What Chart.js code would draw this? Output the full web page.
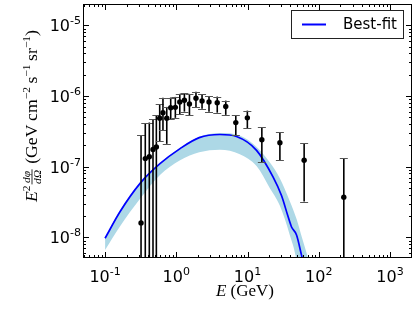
<!DOCTYPE html>
<html lang="en">
<head>
  <meta charset="UTF-8">
  <title>Best-fit spectrum</title>
  <style>
    body { margin: 0; background: white; }
    #wrap { width: 416px; height: 312px; }
  </style>
  <script src="https://cdn.jsdelivr.net/npm/chart.js"></script>
</head>
<body>
  <div id="wrap"><canvas id="myChart" width="416" height="312"></canvas></div>

  <script>
    // measured points (E in GeV, E^2 dphi/dOmega)
    const energy   = [0.32, 0.367, 0.418, 0.471, 0.525, 0.585, 0.65, 0.735, 0.835, 0.97, 1.12, 1.3, 1.53, 1.89, 2.3, 2.88, 3.76, 4.95, 6.85, 9.95, 15.9, 28.5, 62.4, 225];
    const flux     = [1.6e-8, 1.3e-7, 1.38e-7, 1.75e-7, 1.9e-7, 4.85e-7, 5.8e-7, 4.85e-7, 6.8e-7, 6.9e-7, 8.2e-7, 8.7e-7, 7.7e-7, 9.3e-7, 8.5e-7, 8.2e-7, 8.0e-7, 7.1e-7, 4.2e-7, 4.9e-7, 2.4e-7, 2.18e-7, 1.23e-7, 3.7e-8];
    const fluxHigh = [2.8e-7, 4.1e-7, 4.2e-7, 4.7e-7, 5.3e-7, 7.7e-7, 9.4e-7, 7.0e-7, 9.5e-7, 9.7e-7, 1.07e-6, 1.1e-6, 1.07e-6, 1.15e-6, 1.05e-6, 1.0e-6, 9.8e-7, 8.6e-7, 5.4e-7, 6.2e-7, 3.6e-7, 3.1e-7, 2.15e-7, 1.32e-7];
    const fluxLow  = [1e-10, 1e-10, 1e-10, 1e-10, 1e-10, 2.3e-7, 3.3e-7, 2.1e-7, 4.7e-7, 4.9e-7, 5.5e-7, 6.0e-7, 5.3e-7, 7.0e-7, 6.6e-7, 6.0e-7, 5.8e-7, 5.4e-7, 2.8e-7, 3.5e-7, 1.15e-7, 1.23e-7, 3.2e-8, 1e-10];

    // best-fit curve
    const fitE = [0.1, 0.162, 0.31, 0.59, 1.13, 2.1, 4.1, 7.0, 13.4, 22.9, 30, 37.2, 41.5, 48.8, 57.3, 62];
    const fitY = [9.7e-9, 2.3e-8, 5.8e-8, 1.1e-7, 1.8e-7, 2.57e-7, 2.85e-7, 2.67e-7, 1.7e-7, 7.1e-8, 3.9e-8, 1.95e-8, 1.4e-8, 1.08e-8, 5.6e-9, 4e-9];

    // uncertainty band
    const bandE    = [0.1, 0.16, 0.31, 0.59, 1.13, 2.1, 4.1, 7.8, 13.4, 20.5, 28.5, 39, 49, 58, 70];
    const bandHigh = [9.8e-9, 2.35e-8, 5.9e-8, 1.12e-7, 1.85e-7, 2.65e-7, 3.0e-7, 2.75e-7, 1.9e-7, 1.15e-7, 6.8e-8, 3.3e-8, 1.8e-8, 1.0e-8, 5.3e-9];
    const bandLow  = [6.6e-9, 1.4e-8, 3.5e-8, 7.6e-8, 1.23e-7, 1.6e-7, 1.74e-7, 1.5e-7, 1.02e-7, 5.0e-8, 2.8e-8, 1.1e-8, 4.5e-9, 1e-9, 1e-10];

    const xTicks = [0.1, 1, 10, 100, 1000];
    const xExps  = ['-1', '0', '1', '2', '3'];
    const yTicks = [1e-8, 1e-7, 1e-6, 1e-5];
    const yExps  = ['-8', '-7', '-6', '-5'];

    const xy = (xs, ys) => xs.map((x, i) => ({ x: x, y: ys[i] }));

    const SANS = '"DejaVu Sans", sans-serif';
    const SERIF = '"Liberation Serif", serif';

    function minorValues(min, max) {
      const out = [];
      for (let e = -10; e <= 4; e++) {
        for (let m = 1; m < 10; m++) {
          const v = m * Math.pow(10, e);
          if (v >= min && v <= max) out.push({ v: v, major: m === 1 });
        }
      }
      return out;
    }

    // frame, inward ticks, labels, titles, legend, error bars
    const decor = {
      id: 'decor',
      beforeDatasetDraw(chart, args) {
        if (args.index !== 3) return;
        const c = chart.ctx, a = chart.chartArea;
        const xs = chart.scales.x, ys = chart.scales.y;
        c.save();
        c.beginPath();
        c.rect(a.left, a.top, a.right - a.left, a.bottom - a.top);
        c.clip();
        energy.forEach((e, i) => {
          const px = xs.getPixelForValue(e);
          const top = ys.getPixelForValue(fluxHigh[i]);
          const bot = ys.getPixelForValue(fluxLow[i]);
          c.strokeStyle = '#000';
          c.lineWidth = 1.6;
          c.beginPath(); c.moveTo(px, top); c.lineTo(px, bot); c.stroke();
          c.strokeStyle = '#555';
          c.lineWidth = 1;
          [top, bot].forEach(y => {
            c.beginPath(); c.moveTo(px - 4, Math.round(y) + 0.5); c.lineTo(px + 4, Math.round(y) + 0.5); c.stroke();
          });
        });
        c.restore();
      },
      afterDraw(chart) {
        const c = chart.ctx, a = chart.chartArea;
        const xs = chart.scales.x, ys = chart.scales.y;
        c.save();
        // frame
        c.strokeStyle = '#000';
        c.lineWidth = 1;
        c.strokeRect(a.left + 0.5, a.top + 0.5, a.right - a.left - 1, a.bottom - a.top - 1);
        // ticks
        minorValues(xs.min, xs.max).forEach(t => {
          const px = Math.round(xs.getPixelForValue(t.v)) + 0.5;
          const len = t.major ? 6 : 3;
          c.beginPath();
          c.moveTo(px, a.bottom); c.lineTo(px, a.bottom - len);
          c.moveTo(px, a.top); c.lineTo(px, a.top + len);
          c.stroke();
        });
        minorValues(ys.min, ys.max).forEach(t => {
          const py = Math.round(ys.getPixelForValue(t.v)) + 0.5;
          const len = t.major ? 6 : 3;
          c.beginPath();
          c.moveTo(a.left, py); c.lineTo(a.left + len, py);
          c.moveTo(a.right, py); c.lineTo(a.right - len, py);
          c.stroke();
        });
        // tick labels
        c.fillStyle = '#000';
        c.textBaseline = 'alphabetic';
        const big = '16px ' + SANS, small = '11px ' + SANS;
        xTicks.forEach((v, i) => {
          const px = xs.getPixelForValue(v);
          c.font = big; const w1 = c.measureText('10').width;
          c.font = small; const w2 = c.measureText(xExps[i]).width;
          const x0 = px - (w1 + w2) / 2;
          c.font = big; c.fillText('10', x0, 282);
          c.font = small; c.fillText(xExps[i], x0 + w1, 275);
        });
        yTicks.forEach((v, i) => {
          const py = ys.getPixelForValue(v);
          c.font = small; const w2 = c.measureText(yExps[i]).width;
          c.font = big; const w1 = c.measureText('10').width;
          const x0 = 81 - w1 - w2;
          c.fillText('10', x0, py + 6);
          c.font = small; c.fillText(yExps[i], x0 + w1, py - 1);
        });
        // x title
        c.font = 'italic 17px ' + SERIF;
        const we = c.measureText('E').width;
        c.font = '17px ' + SERIF;
        const wr = c.measureText(' (GeV)').width;
        const xt = 245 - (we + wr) / 2;
        c.font = 'italic 17px ' + SERIF; c.fillText('E', xt, 296);
        c.font = '17px ' + SERIF; c.fillText(' (GeV)', xt + we, 296);
        // y title, built from pieces
        const pieces = [
          { t: 'E', f: 'italic 17px ' + SERIF, dy: 0 },
          { t: '2', f: '11px ' + SERIF, dy: -7 },
          { frac: true },
          { t: ' (GeV\u2009cm', f: '17px ' + SERIF, dy: 0 },
          { t: '\u22122', f: '11px ' + SERIF, dy: -7 },
          { t: '\u2009s', f: '17px ' + SERIF, dy: 0 },
          { t: '\u22121', f: '11px ' + SERIF, dy: -7 },
          { t: '\u2009sr', f: '17px ' + SERIF, dy: 0 },
          { t: '\u22121', f: '11px ' + SERIF, dy: -7 },
          { t: ')', f: '17px ' + SERIF, dy: 0 }
        ];
        const fracFont = 'italic 11px ' + SERIF;
        let total = 0;
        pieces.forEach(p => {
          if (p.frac) {
            c.font = fracFont;
            p.w = Math.max(c.measureText('d\u03c6').width, c.measureText('d\u03a9').width) + 3;
          } else {
            c.font = p.f; p.w = c.measureText(p.t).width;
          }
          total += p.w;
        });
        const span = 172;
        c.translate(37, 116);
        c.rotate(-Math.PI / 2);
        c.scale(span / total, 1);
        let cx = -total / 2;
        pieces.forEach(p => {
          if (p.frac) {
            c.font = fracFont;
            c.textAlign = 'center';
            c.fillText('d\u03c6', cx + p.w / 2, -7.5);
            c.fillText('d\u03a9', cx + p.w / 2, 4);
            c.textAlign = 'left';
            c.lineWidth = 0.8;
            c.beginPath(); c.moveTo(cx + 1, -5); c.lineTo(cx + p.w - 1, -5); c.stroke();
          } else {
            c.font = p.f;
            c.fillText(p.t, cx, p.dy);
          }
          cx += p.w;
        });
        c.restore();
        // legend
        c.save();
        c.fillStyle = '#fff';
        c.fillRect(291.5, 10.5, 112, 28);
        c.strokeStyle = '#222';
        c.lineWidth = 1;
        c.strokeRect(291.5, 10.5, 112, 28);
        c.strokeStyle = '#0000ff';
        c.lineWidth = 2;
        c.beginPath(); c.moveTo(302, 24.5); c.lineTo(326, 24.5); c.stroke();
        c.fillStyle = '#000';
        c.font = '15px ' + SANS;
        c.textBaseline = 'middle';
        c.fillText('Best-fit', 343, 25);
        c.restore();
      }
    };

    const ctx = document.getElementById('myChart').getContext('2d');
    const myChart = new Chart(ctx, {
      type: 'line',
      data: {
        datasets: [
          {
            label: 'band low',
            data: xy(bandE, bandLow),
            order: 4,
            borderWidth: 0,
            pointRadius: 0,
            fill: false,
            cubicInterpolationMode: 'monotone'
          },
          {
            label: 'band high',
            data: xy(bandE, bandHigh),
            order: 3,
            borderWidth: 0,
            pointRadius: 0,
            backgroundColor: '#add8e6',
            fill: '-1',
            cubicInterpolationMode: 'monotone'
          },
          {
            label: 'Best-fit',
            data: xy(fitE, fitY),
            order: 2,
            borderColor: '#0000ff',
            borderWidth: 1.7,
            pointRadius: 0,
            fill: false,
            cubicInterpolationMode: 'monotone'
          },
          {
            label: 'data',
            data: xy(energy, flux),
            order: 1,
            showLine: false,
            pointRadius: 2.7,
            pointBackgroundColor: '#000',
            pointBorderColor: '#000',
            pointBorderWidth: 0
          }
        ]
      },
      options: {
        responsive: false,
        devicePixelRatio: 1,
        animation: false,
        layout: { padding: { left: 0, right: 4, top: 3, bottom: 0 } },
        plugins: {
          legend: { display: false },
          tooltip: { enabled: false }
        },
        scales: {
          x: {
            type: 'logarithmic',
            min: 0.049,
            max: 2040,
            ticks: { display: false },
            grid: { display: false },
            border: { display: false },
            afterFit: s => { s.height = 54; }
          },
          y: {
            type: 'logarithmic',
            min: 5.1e-9,
            max: 2.0e-5,
            ticks: { display: false },
            grid: { display: false },
            border: { display: false },
            afterFit: s => { s.width = 83; }
          }
        }
      },
      plugins: [decor]
    });
  </script>
</body>
</html>
